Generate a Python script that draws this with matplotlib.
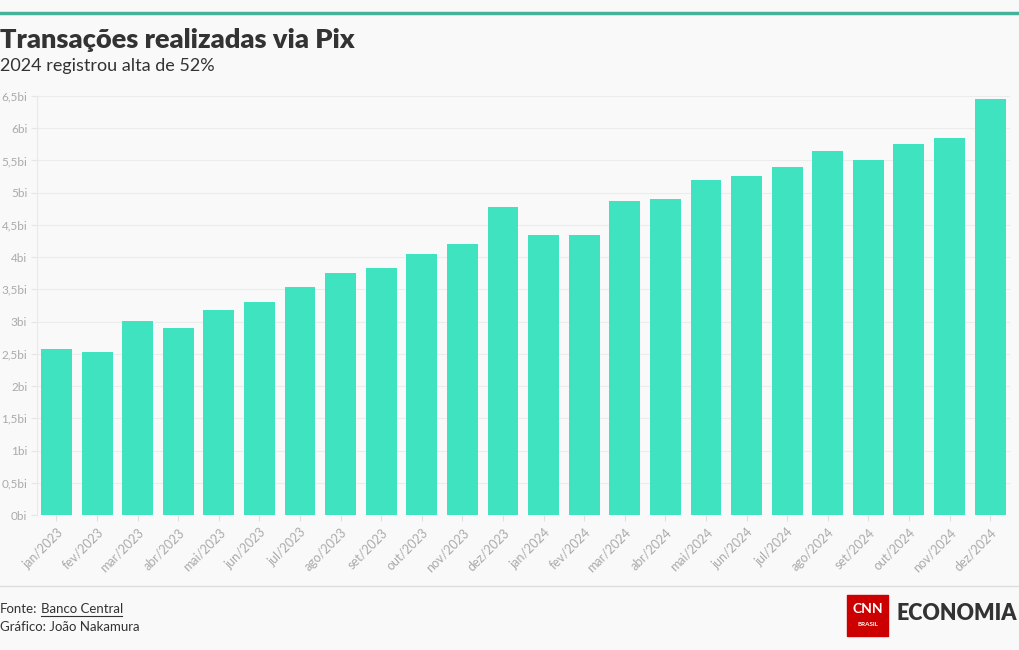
import matplotlib.pyplot as plt
from matplotlib.patches import Rectangle
from matplotlib.lines import Line2D

plt.rcParams['font.family'] = ['Lato', 'DejaVu Sans']

# dados (bilhoes de transacoes)
meses = ['jan/2023', 'fev/2023', 'mar/2023', 'abr/2023', 'mai/2023', 'jun/2023',
         'jul/2023', 'ago/2023', 'set/2023', 'out/2023', 'nov/2023', 'dez/2023',
         'jan/2024', 'fev/2024', 'mar/2024', 'abr/2024', 'mai/2024', 'jun/2024',
         'jul/2024', 'ago/2024', 'set/2024', 'out/2024', 'nov/2024', 'dez/2024']
transacoes = [2.58, 2.53, 3.01, 2.90, 3.18, 3.30, 3.54, 3.75, 3.83, 4.05, 4.20, 4.78,
              4.34, 4.34, 4.87, 4.90, 5.20, 5.26, 5.40, 5.65, 5.51, 5.76, 5.85, 6.45]
yticks = [0, 0.5, 1, 1.5, 2, 2.5, 3, 3.5, 4, 4.5, 5, 5.5, 6, 6.5]
ylabels = ['0bi', '0,5bi', '1bi', '1,5bi', '2bi', '2,5bi', '3bi', '3,5bi',
           '4bi', '4,5bi', '5bi', '5,5bi', '6bi', '6,5bi']

bg = '#f9f9f9'
fig = plt.figure(figsize=(10.2, 6.5), dpi=100, facecolor=bg)
ax = fig.add_axes([37 / 1020, 1 - 515 / 650, 973 / 1020, 419 / 650], facecolor=bg)

x = list(range(len(meses)))
ax.bar(x, transacoes, width=0.76, color='#3fe3bf', zorder=3)
ax.set_xlim(-0.48, len(meses) - 0.51)
ax.set_ylim(0, 6.5)
ax.set_yticks(yticks)
ax.set_yticklabels(ylabels, color='#aaaaaa', fontsize=8.5)
ax.set_xticks(x)
ax.set_xticklabels(meses, rotation=45, ha='right', rotation_mode='anchor',
                   color='#aaaaaa', fontsize=9)
ax.tick_params(axis='y', length=4, color='#e6e6e6', pad=3)
ax.tick_params(axis='x', length=4, color='#e0e0e0', pad=4)
ax.grid(axis='y', color='#ececec', linewidth=0.8, zorder=0)
for s in ['top', 'right', 'bottom']:
    ax.spines[s].set_visible(False)
ax.spines['left'].set_color('#e8e8e8')

# cabecalho
fig.add_artist(Line2D([0, 1], [1 - 13 / 650] * 2, color='#45b39a', linewidth=2.5))
fig.text(0.0, 1 - 40 / 650, 'Transações realizadas via Pix', fontsize=19.5,
         fontweight='heavy', color='#333333', va='center')
fig.text(0.0, 1 - 66 / 650, '2024 registrou alta de 52%', fontsize=13,
         color='#333333', va='center')

# rodape
fig.add_artist(Line2D([0, 1], [1 - 586 / 650] * 2, color='#dddddd', linewidth=1))
fig.text(0.0, 1 - 609 / 650, 'Fonte:', fontsize=9.5, color='#333333', va='center')
fig.text(41 / 1020, 1 - 609 / 650, 'Banco Central', fontsize=9.5, color='#333333',
         va='center')
fig.add_artist(Line2D([41 / 1020, 122 / 1020], [1 - 616 / 650] * 2,
                      color='#333333', linewidth=0.8))
fig.text(0.0, 1 - 627 / 650, 'Gráfico: João Nakamura', fontsize=9.5, color='#333333',
         va='center')

# logo
fig.add_artist(Rectangle((847 / 1020, 1 - 636 / 650), 41 / 1020, 41 / 650,
                         transform=fig.transFigure, color='#cc0000'))
fig.text(867.5 / 1020, 1 - 609 / 650, 'CNN', fontsize=10, fontweight='bold',
         color='white', ha='center', va='center')
fig.text(867.5 / 1020, 1 - 624 / 650, 'BRASIL', fontsize=4.5, fontweight='bold',
         color='white', ha='center', va='center')
fig.text(897 / 1020, 1 - 614 / 650, 'ECONOMIA', fontsize=15.5, fontweight='heavy',
         color='#333333', va='center')

fig.savefig('out.png', dpi=100, facecolor=bg)
